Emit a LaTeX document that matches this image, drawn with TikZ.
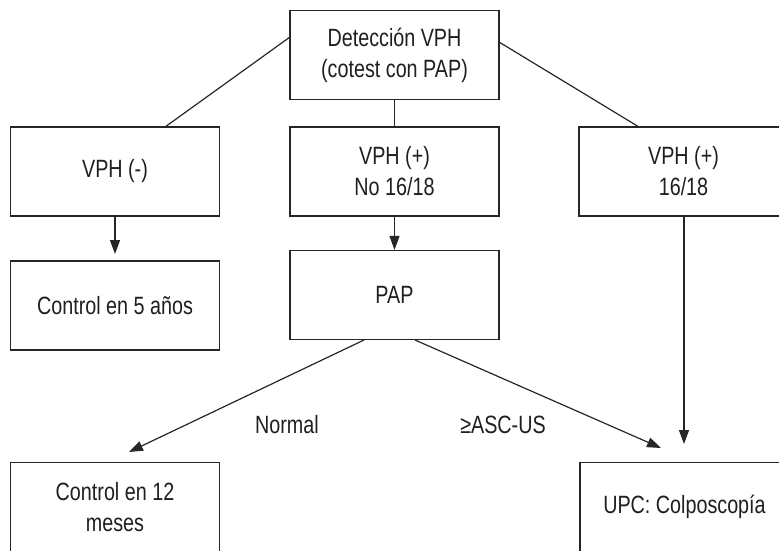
\documentclass[tikz,border=0pt]{standalone}
\usepackage{fontspec}
\setmainfont{Liberation Sans}[FakeStretch=0.79]
\usetikzlibrary{arrows.meta,calc}
\begin{document}
\begin{tikzpicture}[x=1pt,y=-1pt,
  txt/.style={font=\fontsize{25}{31}\selectfont, text=black!88},
  box/.style={txt, draw=black!85, line width=1.2pt, minimum width=209pt, minimum height=89pt, inner sep=0pt, align=center},
  link/.style={draw=black!85, line width=1.2pt},
  arr/.style={link, -{Triangle[length=14pt,width=10pt]}}]
\useasboundingbox (0,0) rectangle (779,550);
\clip (0,0) rectangle (779,550);
% boxes
\node[box] (top)   at (394.5,55)    {Detección VPH\\(cotest con PAP)};
\node[box] (vneg)  at (115,171.5)   {VPH (-)};
\node[box] (vpos)  at (394.5,171.5) {VPH (+)\\No 16/18};
\node[box] (v1618) at (683.5,171.5) {VPH (+)\\16/18};
\node[box] (c5)    at (115,305.5)   {Control en 5 años};
\node[box] (pap)   at (394.5,295)   {PAP};
\node[box] (c12)   at (115,507)     {Control en 12\\meses};
\node[box] (upc)   at (684.5,507)   {UPC: Colposcopía};
% connector ends
\coordinate (topL)  at (290,37);
\coordinate (topR)  at (499,42);
\coordinate (vnegT) at (165,127);
\coordinate (v18T)  at (639,127);
\coordinate (papL)  at (364,340);
\coordinate (papR)  at (415,340);
\coordinate (c12tip) at (129,452);
\coordinate (upctipA) at (661,448);
\coordinate (upctipB) at (684,444);
\coordinate (c5tip) at (115,254);
% connectors
\draw[link] (topL) -- (vnegT);
\draw[link] (topR) -- (v18T);
\draw[link] (top.south) -- (vpos.north);
\draw[arr] (vneg.south) -- (c5tip);
\draw[arr] (vpos.south) -- (pap.north);
\draw[arr] (papL) -- (c12tip);
\draw[arr] (papR) -- (upctipA);
\draw[arr] (v1618.south -| upctipB) -- (upctipB);
% labels
\node[txt] (lnormal) at (287,425) {Normal};
\node[txt] (lasc) at (503,425) {≥ASC-US};
\end{tikzpicture}
\end{document}
